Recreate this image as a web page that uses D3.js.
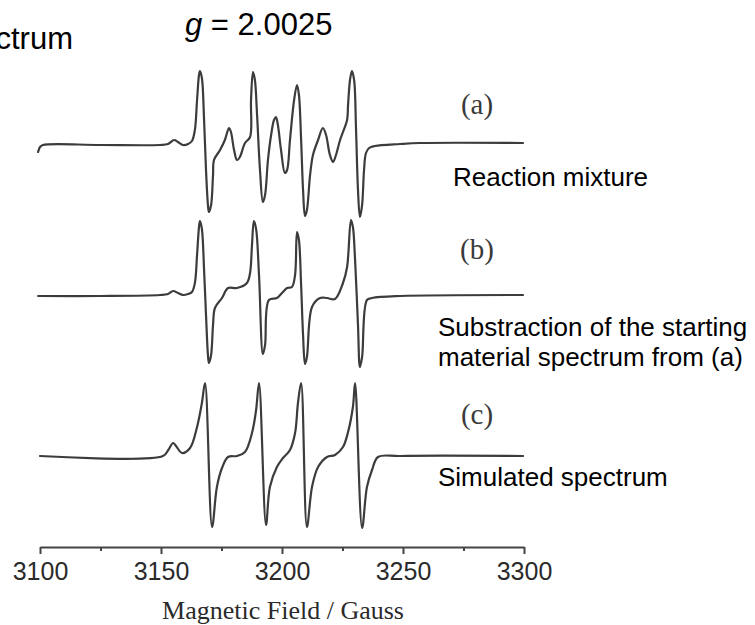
<!DOCTYPE html>
<html>
<head>
<meta charset="utf-8">
<script src="https://cdn.jsdelivr.net/npm/d3@7"></script>
<style>
  html, body { margin: 0; padding: 0; background: #fff; }
  svg { display: block; }
</style>
</head>
<body>
<svg id="chart" width="755" height="625"></svg>
<script>
// ---------------- data ----------------
// Magnetic field (Gauss) and first-derivative EPR intensity (arb. units, baseline = 0)
const fieldA = [3099.2,3100,3101.2,3124.8,3149.6,3152.9,3155.4,3157.0,3159.1,3161.2,3162.8,3164.0,3164.9,3165.7,3166.1,3166.9,3167.8,3168.6,3169.4,3169.8,3170.7,3171.5,3171.9,3174.4,3176.4,3178.1,3178.9,3180.2,3181.4,3182.6,3184.7,3186.8,3187.2,3188.0,3188.8,3189.7,3190.9,3192.1,3193.0,3194.2,3195.5,3196.7,3197.5,3198.3,3199.6,3201.2,3202.1,3203.3,3205.0,3206.2,3207.0,3207.9,3208.7,3209.5,3210.3,3211.6,3212.8,3214.9,3216.9,3218.2,3219.8,3221.1,3222.3,3224.0,3225.2,3226.9,3227.3,3228.1,3228.9,3229.8,3230.6,3231.4,3232.2,3233.1,3233.9,3234.7,3236.0,3238.4,3248.8,3257.0,3299.6];
const signalA = [-7,-2,0,0,0,1,5,3,0,1,4,15,45,70,74,67,25,-25,-60,-67,-60,-30,-15,-5,5,17,13,-5,-15,-12,2,8,45,73,65,30,-25,-57,-50,-15,10,25,28,20,-5,-28,-25,5,45,60,50,5,-45,-71,-65,-30,-10,5,17,10,-10,-17,-10,5,13,25,40,65,74,65,15,-45,-72,-60,-25,-8,-3,-1,1,2,2];

const fieldB = [3099.2,3124.8,3149.6,3152.9,3155.0,3157.0,3159.1,3161.2,3162.8,3164.0,3164.9,3165.7,3166.1,3166.9,3167.8,3168.6,3169.4,3169.8,3170.7,3171.5,3172.3,3175.2,3177.7,3181.4,3185.5,3186.8,3187.6,3188.4,3189.3,3190.5,3192.1,3193.0,3194.6,3197.9,3200.0,3202.1,3204.1,3205.4,3206.2,3207.0,3207.9,3208.7,3209.5,3210.3,3212.4,3215.7,3218.6,3221.9,3225.2,3226.9,3228.5,3229.3,3230.2,3231.4,3232.2,3233.1,3235.1,3237.2,3248.8,3299.6];
const signalB = [-1,-1,0,1,4,2,0,1,3,12,40,68,74,66,25,-20,-60,-68,-60,-30,-13,-3,7,7,12,22,50,74,66,20,-59,-50,-5,-3,2,7,8,20,63,55,10,-40,-69,-62,-12,-3,-3,-4,12,28,75,68,35,-30,-72,-62,-5,-3,-1,0];

const fieldC = [3100,3150.8,3153.0,3155.0,3156.2,3158.7,3162.0,3164.9,3166.9,3168.2,3171.1,3173.1,3175.2,3177.7,3181.4,3184.7,3187.6,3189.3,3190.5,3193.4,3195.0,3197.9,3200.4,3203.3,3205.4,3206.6,3207.9,3210.3,3212.4,3214.9,3218.6,3221.9,3225.2,3227.3,3229.3,3230.2,3233.1,3235.1,3237.2,3239.7,3248.8,3299.6];
const signalC = [0,0,6,13,10,3,8,29,53,73,-71,-31,-12,-1,0,4,23,46,73,-69,-31,-11,-2,6,23,53,73,-71,-31,-11,-1,1,9,24,49,73,-72,-31,-14,-1,0,0];

const panelLetters = ["(a)", "(b)", "(c)"];
const panelNotes = [["Reaction mixture"], ["Substraction of the starting", "material spectrum from (a)"], ["Simulated spectrum"]];
const majorTicks = [3100, 3150, 3200, 3250, 3300];
const minorTicks = [3125, 3175, 3225, 3275];
const xTitle = "Magnetic Field / Gauss";
const gLabel = "2.0025";
const cutTitle = "Spectrum";

// ---------------- drawing ----------------
const svg = d3.select("#chart");
svg.append("rect").attr("width", 755).attr("height", 625).attr("fill", "#fff");

const x = d3.scaleLinear().domain([3100, 3300]).range([40, 524]);
const baselines = [145, 295, 456];
const series = [
  {f: fieldA, s: signalA},
  {f: fieldB, s: signalB},
  {f: fieldC, s: signalC}
];

series.forEach((d, i) => {
  const y = d3.scaleLinear().domain([-100, 100]).range([baselines[i] + 100, baselines[i] - 100]);
  const pts = d.f.map((v, k) => [v, d.s[k]]);
  const line = d3.line()
    .x(p => x(p[0]))
    .y(p => y(p[1]))
    .curve(d3.curveCatmullRom.alpha(0.5));
  svg.append("path")
    .datum(pts)
    .attr("d", line)
    .attr("fill", "none")
    .attr("stroke", "#3c3c3c")
    .attr("stroke-width", 2.2)
    .attr("stroke-linejoin", "round")
    .attr("stroke-linecap", "round");
});

// panel letters
const letterY = [114, 259, 424];
panelLetters.forEach((t, i) => {
  svg.append("text")
    .attr("x", 477).attr("y", letterY[i])
    .attr("text-anchor", "middle")
    .attr("font-family", "'Liberation Serif', 'DejaVu Serif', serif")
    .attr("font-size", 29)
    .attr("fill", "#3a3a3a")
    .text(t);
});

// notes
const noteX = [453, 438, 438];
const noteY = [[186], [336, 366], [486]];
panelNotes.forEach((lines, i) => {
  lines.forEach((t, j) => {
    svg.append("text")
      .attr("x", noteX[i]).attr("y", noteY[i][j])
      .attr("font-family", "'Liberation Sans', Arial, sans-serif")
      .attr("font-size", 26)
      .attr("fill", "#000")
      .text(t);
  });
});

// top labels
const gt = svg.append("text")
  .attr("x", 185).attr("y", 35)
  .attr("font-family", "'Liberation Sans', Arial, sans-serif")
  .attr("font-size", 31)
  .attr("fill", "#000");
gt.append("tspan").attr("font-style", "italic").text("g");
gt.append("tspan").text(" = " + gLabel);

svg.append("text")
  .attr("x", 73).attr("y", 49)
  .attr("text-anchor", "end")
  .attr("font-family", "'Liberation Sans', Arial, sans-serif")
  .attr("font-size", 31)
  .attr("fill", "#000")
  .text(cutTitle);

// axis
const axisY = 547;
const axis = d3.axisBottom(x).tickValues(majorTicks).tickSize(7).tickSizeOuter(0).tickPadding(8).tickFormat(d3.format("d"));
const g = svg.append("g").attr("transform", `translate(0,${axisY})`).call(axis);
g.select(".domain").attr("stroke", "#444").attr("stroke-width", 2.2);
g.selectAll(".tick line").attr("stroke", "#444").attr("stroke-width", 2);
g.selectAll(".tick text")
  .attr("font-family", "'Liberation Sans Narrow', 'Liberation Sans', Arial, sans-serif")
  .attr("font-size", 25)
  .attr("fill", "#2a2a2a");

const minorAxis = d3.axisBottom(x).tickValues(minorTicks).tickSize(4).tickSizeOuter(0).tickFormat("");
const gm = svg.append("g").attr("transform", `translate(0,${axisY})`).call(minorAxis);
gm.select(".domain").remove();
gm.selectAll(".tick line").attr("stroke", "#444").attr("stroke-width", 2);

svg.append("text")
  .attr("x", 283).attr("y", 619)
  .attr("text-anchor", "middle")
  .attr("font-family", "'Liberation Serif', 'DejaVu Serif', serif")
  .attr("font-size", 26)
  .attr("fill", "#2a2a2a")
  .text(xTitle);
</script>
</body>
</html>
